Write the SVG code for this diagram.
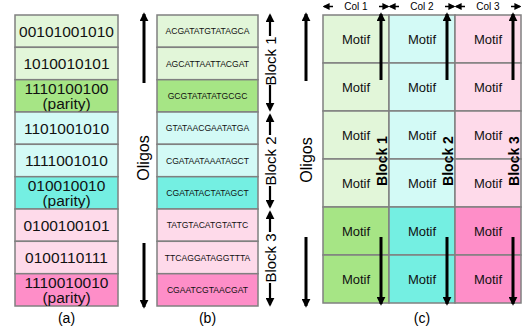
<svg xmlns="http://www.w3.org/2000/svg" width="531" height="327" viewBox="0 0 531 327">
<defs>
<marker id="ah" viewBox="0 0 10 10" refX="8" refY="5" markerWidth="9" markerHeight="9" markerUnits="userSpaceOnUse" orient="auto"><path d="M0,0 L10,5 L0,10 z" fill="#000"/></marker>
<marker id="ahs" viewBox="0 0 10 10" refX="8" refY="5" markerWidth="7" markerHeight="7" markerUnits="userSpaceOnUse" orient="auto"><path d="M0,0 L10,5 L0,10 z" fill="#000"/></marker>
<style>
.c{stroke:#808080;stroke-width:1.5}
.lg{fill:#e2f6d9}.dg{fill:#a6e585}.lc{fill:#d3faf6}.dc{fill:#74efe2}.lp{fill:#fedaea}.dp{fill:#fe8ec8}
.bits{font-family:"Liberation Sans",Arial,sans-serif;font-size:15.5px;fill:#111;text-anchor:middle}
.seq{font-family:"Liberation Sans",Arial,sans-serif;font-size:8.6px;fill:#111;text-anchor:middle}
.mot{font-family:"Liberation Sans",Arial,sans-serif;font-size:13px;fill:#111;text-anchor:middle}
.lbl{font-family:"Liberation Sans",Arial,sans-serif;font-size:15px;fill:#000;text-anchor:middle}
.blk{font-family:"Liberation Sans",Arial,sans-serif;font-size:14px;font-weight:bold;fill:#000;text-anchor:middle}
.col{font-family:"Liberation Sans",Arial,sans-serif;font-size:10px;fill:#000;text-anchor:middle}
.cap{font-family:"Liberation Sans",Arial,sans-serif;font-size:14px;fill:#000;text-anchor:middle}
.ar{stroke:#000;stroke-width:3;fill:none;marker-end:url(#ah)}
.ar2{stroke:#000;stroke-width:2.2;fill:none;marker-end:url(#ah)}
.ar3{stroke:#000;stroke-width:1.5;fill:none;marker-end:url(#ahs)}
</style>
</defs>
<rect width="531" height="327" fill="#fff"/>

<!-- Panel (a) -->
<g id="a1"><rect class="c lg" x="15" y="15" width="103" height="32.3"/><text class="bits" x="66.5" y="36.5">00101001010</text></g>
<g id="a2"><rect class="c lg" x="15" y="47.3" width="103" height="32.4"/><text class="bits" x="66.5" y="69">1010010101</text></g>
<g id="a3"><rect class="c dg" x="15" y="79.7" width="103" height="32.3"/><text class="bits" x="66.5" y="93.5">1110100100</text><text class="bits" x="66.5" y="109">(parity)</text></g>
<g id="a4"><rect class="c lc" x="15" y="112" width="103" height="32.3"/><text class="bits" x="66.5" y="133.5">1101001010</text></g>
<g id="a5"><rect class="c lc" x="15" y="144.3" width="103" height="32.4"/><text class="bits" x="66.5" y="166">1111001010</text></g>
<g id="a6"><rect class="c dc" x="15" y="176.7" width="103" height="32.3"/><text class="bits" x="66.5" y="190.5">010010010</text><text class="bits" x="66.5" y="206">(parity)</text></g>
<g id="a7"><rect class="c lp" x="15" y="209" width="103" height="32.3"/><text class="bits" x="66.5" y="230.5">0100100101</text></g>
<g id="a8"><rect class="c lp" x="15" y="241.3" width="103" height="32.4"/><text class="bits" x="66.5" y="263">0100110111</text></g>
<g id="a9"><rect class="c dp" x="15" y="273.7" width="103" height="32.3"/><text class="bits" x="66.5" y="287.5">1110010010</text><text class="bits" x="66.5" y="303">(parity)</text></g>
<text class="cap" x="66.5" y="323">(a)</text>

<!-- Panel (b) -->
<g id="b1"><rect class="c lg" x="157" y="15" width="101" height="32.3"/><text class="seq" x="207.5" y="34.3">ACGATATGTATAGCA</text></g>
<g id="b2"><rect class="c lg" x="157" y="47.3" width="101" height="32.4"/><text class="seq" x="207.5" y="66.6">AGCATTAATTACGAT</text></g>
<g id="b3"><rect class="c dg" x="157" y="79.7" width="101" height="32.3"/><text class="seq" x="207.5" y="98.9">GCGTATATATGCGC</text></g>
<g id="b4"><rect class="c lc" x="157" y="112" width="101" height="32.3"/><text class="seq" x="207.5" y="131.3">GTATAACGAATATGA</text></g>
<g id="b5"><rect class="c lc" x="157" y="144.3" width="101" height="32.4"/><text class="seq" x="207.5" y="163.6">CGATAATAAATAGCT</text></g>
<g id="b6"><rect class="c dc" x="157" y="176.7" width="101" height="32.3"/><text class="seq" x="207.5" y="195.9">CGATATACTATAGCT</text></g>
<g id="b7"><rect class="c lp" x="157" y="209" width="101" height="32.3"/><text class="seq" x="207.5" y="228.3">TATGTACATGTATTC</text></g>
<g id="b8"><rect class="c lp" x="157" y="241.3" width="101" height="32.4"/><text class="seq" x="207.5" y="260.6">TTCAGGATAGGTTTA</text></g>
<g id="b9"><rect class="c dp" x="157" y="273.7" width="101" height="32.3"/><text class="seq" x="207.5" y="292.9">CGAATCGTAACGAT</text></g>
<text class="cap" x="207.5" y="323">(b)</text>

<!-- Panel (c) -->
<g id="c-col1">
<rect class="c lg" x="323" y="15" width="66" height="48"/><rect class="c lg" x="323" y="63" width="66" height="48"/>
<rect class="c lg" x="323" y="111" width="66" height="48"/><rect class="c lg" x="323" y="159" width="66" height="48"/>
<rect class="c dg" x="323" y="207" width="66" height="48"/><rect class="c dg" x="323" y="255" width="66" height="48"/>
<text class="mot" x="356" y="43.5">Motif</text><text class="mot" x="356" y="91.5">Motif</text><text class="mot" x="356" y="139.5">Motif</text>
<text class="mot" x="356" y="187.5">Motif</text><text class="mot" x="356" y="235.5">Motif</text><text class="mot" x="356" y="283.5">Motif</text>
</g>
<g id="c-col2">
<rect class="c lc" x="389" y="15" width="66" height="48"/><rect class="c lc" x="389" y="63" width="66" height="48"/>
<rect class="c lc" x="389" y="111" width="66" height="48"/><rect class="c lc" x="389" y="159" width="66" height="48"/>
<rect class="c dc" x="389" y="207" width="66" height="48"/><rect class="c dc" x="389" y="255" width="66" height="48"/>
<text class="mot" x="422" y="43.5">Motif</text><text class="mot" x="422" y="91.5">Motif</text><text class="mot" x="422" y="139.5">Motif</text>
<text class="mot" x="422" y="187.5">Motif</text><text class="mot" x="422" y="235.5">Motif</text><text class="mot" x="422" y="283.5">Motif</text>
</g>
<g id="c-col3">
<rect class="c lp" x="455" y="15" width="66" height="48"/><rect class="c lp" x="455" y="63" width="66" height="48"/>
<rect class="c lp" x="455" y="111" width="66" height="48"/><rect class="c lp" x="455" y="159" width="66" height="48"/>
<rect class="c dp" x="455" y="207" width="66" height="48"/><rect class="c dp" x="455" y="255" width="66" height="48"/>
<text class="mot" x="488" y="43.5">Motif</text><text class="mot" x="488" y="91.5">Motif</text><text class="mot" x="488" y="139.5">Motif</text>
<text class="mot" x="488" y="187.5">Motif</text><text class="mot" x="488" y="235.5">Motif</text><text class="mot" x="488" y="283.5">Motif</text>
</g>
<text class="cap" x="422" y="323">(c)</text>

<!-- Labels -->
<g id="labels">
<text class="lbl" transform="translate(149,158) rotate(-90)" style="font-size:16px">Oligos</text>
<text class="lbl" transform="translate(312,160) rotate(-90)" style="font-size:16px">Oligos</text>
<text class="lbl" transform="translate(275.5,61) rotate(-90)">Block 1</text>
<text class="lbl" transform="translate(275.5,161) rotate(-90)">Block 2</text>
<text class="lbl" transform="translate(275.5,258) rotate(-90)">Block 3</text>
<text class="blk" transform="translate(387,161) rotate(-90)">Block 1</text>
<text class="blk" transform="translate(453,161) rotate(-90)">Block 2</text>
<text class="blk" transform="translate(519,161) rotate(-90)">Block 3</text>
<text class="col" x="356" y="10">Col 1</text>
<text class="col" x="422" y="10">Col 2</text>
<text class="col" x="488" y="10">Col 3</text>
</g>

<!-- Connectors -->
<g id="connectors">
<line class="ar" x1="144" y1="83" x2="144" y2="14"/>
<line class="ar" x1="144" y1="243" x2="144" y2="307"/>
<line class="ar" x1="306" y1="81" x2="306" y2="14"/>
<line class="ar" x1="306" y1="237" x2="306" y2="306"/>

<line class="ar2" x1="270" y1="36" x2="270" y2="15"/>
<line class="ar2" x1="270" y1="85" x2="270" y2="110"/>
<line class="ar2" x1="270" y1="135" x2="270" y2="115"/>
<line class="ar2" x1="270" y1="186" x2="270" y2="207"/>
<line class="ar2" x1="270" y1="232" x2="270" y2="212"/>
<line class="ar2" x1="270" y1="283" x2="270" y2="305"/>

<line class="ar" x1="381" y1="80" x2="381" y2="14"/>
<line class="ar" x1="381" y1="237" x2="381" y2="304"/>
<line class="ar" x1="447" y1="80" x2="447" y2="14"/>
<line class="ar" x1="447" y1="237" x2="447" y2="304"/>
<line class="ar" x1="513" y1="80" x2="513" y2="14"/>
<line class="ar" x1="513" y1="237" x2="513" y2="304"/>

<line class="ar3" x1="333" y1="6.5" x2="324" y2="6.5"/>
<line class="ar3" x1="379" y1="6.5" x2="388" y2="6.5"/>
<line class="ar3" x1="399" y1="6.5" x2="390" y2="6.5"/>
<line class="ar3" x1="445" y1="6.5" x2="454" y2="6.5"/>
<line class="ar3" x1="465" y1="6.5" x2="456" y2="6.5"/>
<line class="ar3" x1="511" y1="6.5" x2="520" y2="6.5"/>
</g>
</svg>
